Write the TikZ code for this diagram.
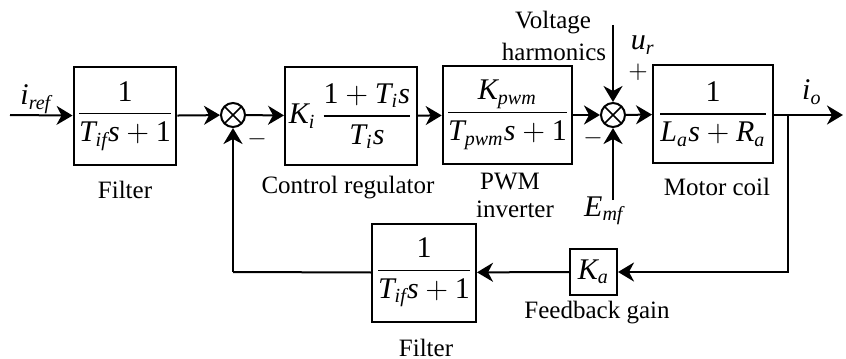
\documentclass[tikz,border=0pt]{standalone}
\usepackage{amsmath}
\usepackage{fontspec}
\setmainfont{Liberation Serif}
\usetikzlibrary{arrows.meta}
\newcommand{\tv}[1]{\textit{#1}}
\newcommand{\one}{\textrm{1}}

\begin{document}
\begin{tikzpicture}[x=0.4pt, y=-0.4pt, font=\normalsize,
  blk/.style={rectangle, draw, line width=0.8pt, minimum height=39.2pt,
              inner sep=1pt, font=\large, align=center},
  sumpt/.style={circle, draw, line width=0.8pt, minimum size=9.6pt, inner sep=0pt,
              path picture={\draw[line width=0.7pt]
                (path picture bounding box.north west) -- (path picture bounding box.south east)
                (path picture bounding box.north east) -- (path picture bounding box.south west);}},
  sig/.style={-{Stealth[length=6.4pt, width=7.6pt, inset=2pt]}, line width=0.8pt},
  wire/.style={line width=0.8pt}]
  \useasboundingbox (0,0) rectangle (846,359);

  \node[blk, minimum width=40.8pt] (filt) at (125,116) {$\dfrac{\one}{\tv{T}_{\tv{if}}\tv{s}+\one}$};
  \node[sumpt] (sa) at (233,115) {};
  \node[blk, minimum width=52.8pt] (ctrl) at (351,116) {$\tv{K}_{\tv{i}}\,\dfrac{\one+\tv{T}_{\tv{i}}\tv{s}}{\tv{T}_{\tv{i}}\tv{s}}$};
  \node[blk, minimum width=45.2pt] (pwm) at (507.5,115) {$\dfrac{\tv{K}_{\tv{pwm}}}{\tv{T}_{\tv{pwm}}\tv{s}+\one}$};
  \node[sumpt] (sb) at (613,115) {};
  \node[blk, minimum width=48pt] (coil) at (713,114) {$\dfrac{\one}{\tv{L}_{\tv{a}}\tv{s}+\tv{R}_{\tv{a}}}$};
  \node[blk, minimum width=18.8pt, minimum height=18.4pt] (gain) at (593.5,272) {$\tv{K}_{\tv{a}}$};
  \node[blk, minimum width=41.6pt] (fb) at (424,272.5) {$\dfrac{\one}{\tv{T}_{\tv{if}}\tv{s}+\one}$};

  \coordinate (in) at (10,115);
  \coordinate (out) at (843,115);
  \coordinate (tap) at (788,115);
  \coordinate (vh) at (613,25);
  \coordinate (emf) at (613,200);
  \coordinate (ret) at (233,272);

  \node (iref) at (36,99) {\large$\tv{i}_{\tv{ref}}$};
  \node (io) at (812,92) {\large$\tv{i}_{\tv{o}}$};
  \node (ur) at (643,45) {\large$\tv{u}_{\tv{r}}$};
  \node (plus) at (638,72) {$+$};
  \node (mb) at (593,138) {$-$};
  \node (ma) at (257,139) {$-$};
  \node (Emf) at (604,211) {\large$\tv{E}_{\tv{mf}}$};
  \node (volt) at (553,23) {Voltage};
  \node (harm) at (554,52) {harmonics};

  \node (l1) at (125,190) {Filter};
  \node (l2) at (348,188) {Control regulator};
  \node (l3) at (510,182) {PWM};
  \node (l4) at (515,209) {inverter};
  \node (l5) at (717,187) {Motor coil};
  \node (l6) at (597,313) {Feedback gain};
  \node (l7) at (426,348) {Filter};

  \draw[sig] (in) -- (filt);
  \draw[sig] (filt) -- (sa);
  \draw[sig] (sa) -- (ctrl);
  \draw[sig] (ctrl) -- (pwm);
  \draw[sig] (pwm) -- (sb);
  \draw[sig] (sb) -- (coil);
  \draw[sig] (coil.east |- out) -- (out);
  \draw[sig] (vh) -- (sb);
  \draw[sig] (emf) -- (sb);
  \draw[sig] (tap) |- (gain);
  \draw[sig] (gain) -- (fb);
  \draw[wire] (fb.west) -- (ret);
  \draw[sig] (ret) -- (sa);
\end{tikzpicture}
\end{document}
